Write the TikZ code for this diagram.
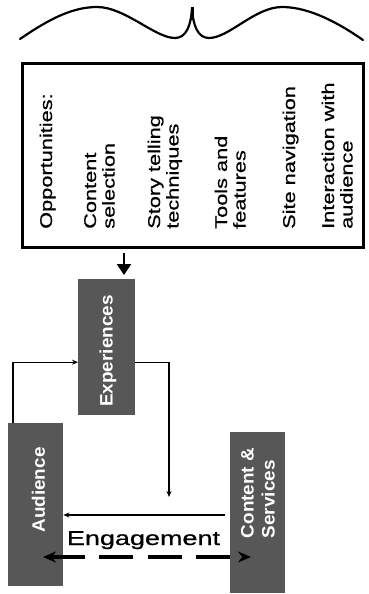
\documentclass[tikz,border=0pt]{standalone}
\usepackage{fontspec}
\setmainfont{Liberation Sans}
\newfontfamily\heavy[FakeBold=0.6]{Liberation Sans}
\usetikzlibrary{arrows.meta}
\newcommand{\sx}[2][1.28]{\scalebox{#1}[1]{#2}}
\begin{document}
\begin{tikzpicture}[x=1pt,y=-1pt,
  optxt/.style={rotate=90, anchor=base west, inner sep=0pt, font=\heavy\fontsize{17}{18.5}\selectfont},
  dark/.style={fill=black!66, draw=none, inner sep=0pt, anchor=north west},
  lbl/.style={rotate=90, inner sep=0pt, text=white, font=\bfseries\fontsize{18}{21}\selectfont},
  conn/.style={line width=1.3pt, -{Stealth[length=6pt,width=5pt]}},
]
\useasboundingbox (0,0) rectangle (368,594);
% brace
\draw[line width=2.2pt, line cap=round]
  (20,39) .. controls (45,22) and (70,7) .. (97,7)
  .. controls (125,7) and (155,38) .. (175,38)
  .. controls (186,38) and (191,26) .. (192,8)
  .. controls (193,26) and (198,38) .. (209,38)
  .. controls (229,38) and (255,7) .. (282,7)
  .. controls (310,7) and (340,24) .. (363,40);
\draw[line width=3pt] (192,7) -- (192,20);
% opportunities box
\node[draw, line width=2.6pt, inner sep=0pt, minimum width=341pt, minimum height=184pt, anchor=north west] (opp) at (21,62) {};
\node[optxt] (o1) at (52,229) {\sx{Opportunities:}};
\node[optxt] (o2) at (96,229) {\sx{\begin{tabular}[t]{@{}l@{}}Content\\selection\end{tabular}}};
\node[optxt] (o3) at (160,229) {\sx{\begin{tabular}[t]{@{}l@{}}Story telling\\techniques\end{tabular}}};
\node[optxt] (o4) at (227,229) {\sx{\begin{tabular}[t]{@{}l@{}}Tools and\\features\end{tabular}}};
\node[optxt] (o5) at (295,229) {\sx{Site navigation}};
\node[optxt] (o6) at (334,229) {\sx{\begin{tabular}[t]{@{}l@{}}Interaction with\\audience\end{tabular}}};
% dark boxes
\node[dark, minimum width=57pt, minimum height=136pt] (exp) at (78,279) {};
\node[dark, minimum width=55pt, minimum height=163pt] (aud) at (8,423) {};
\node[dark, minimum width=55pt, minimum height=161pt] (cs) at (230,432) {};
\node[lbl] (explbl) at (108,351) {\sx[1.05]{Experiences}};
\node[lbl] (audlbl) at (38.5,490) {\sx[1.05]{Audience}};
\node[lbl] (cslbl) at (260,493) {\sx[1.05]{\begin{tabular}{@{}l@{}}Content \&\\Services\end{tabular}}};
% arrow from box to experiences
\coordinate (t1) at (124,253);
\coordinate (t2) at (124,275);
\draw[line width=2.2pt, -{Triangle[length=11pt,width=14pt]}] (t1) -- (t2);
% connectors
\draw[conn] ([xshift=5pt]aud.north west) |- ([yshift=-15pt]exp.west);
\coordinate (end1) at (169,497);
\draw[conn] ([yshift=-15pt]exp.east) -| (end1);
\coordinate (y515) at (0,515);
\draw[conn] ([xshift=-5pt]cs.west |- y515) -- (aud.east |- y515);
\node[inner sep=0pt, anchor=base, font=\heavy\fontsize{20}{20}\selectfont] (eng) at (143.5,545) {\sx[1.35]{Engagement}};
\coordinate (y557) at (0,557);
\draw[line width=3.6pt, dash pattern=on 34pt off 14.5pt,
  {Stealth[length=13pt,width=11pt]}-{Stealth[length=13pt,width=11pt]}]
  ([xshift=35pt]aud.west |- y557) -- ([xshift=21pt]cs.west |- y557);
\end{tikzpicture}
\end{document}
